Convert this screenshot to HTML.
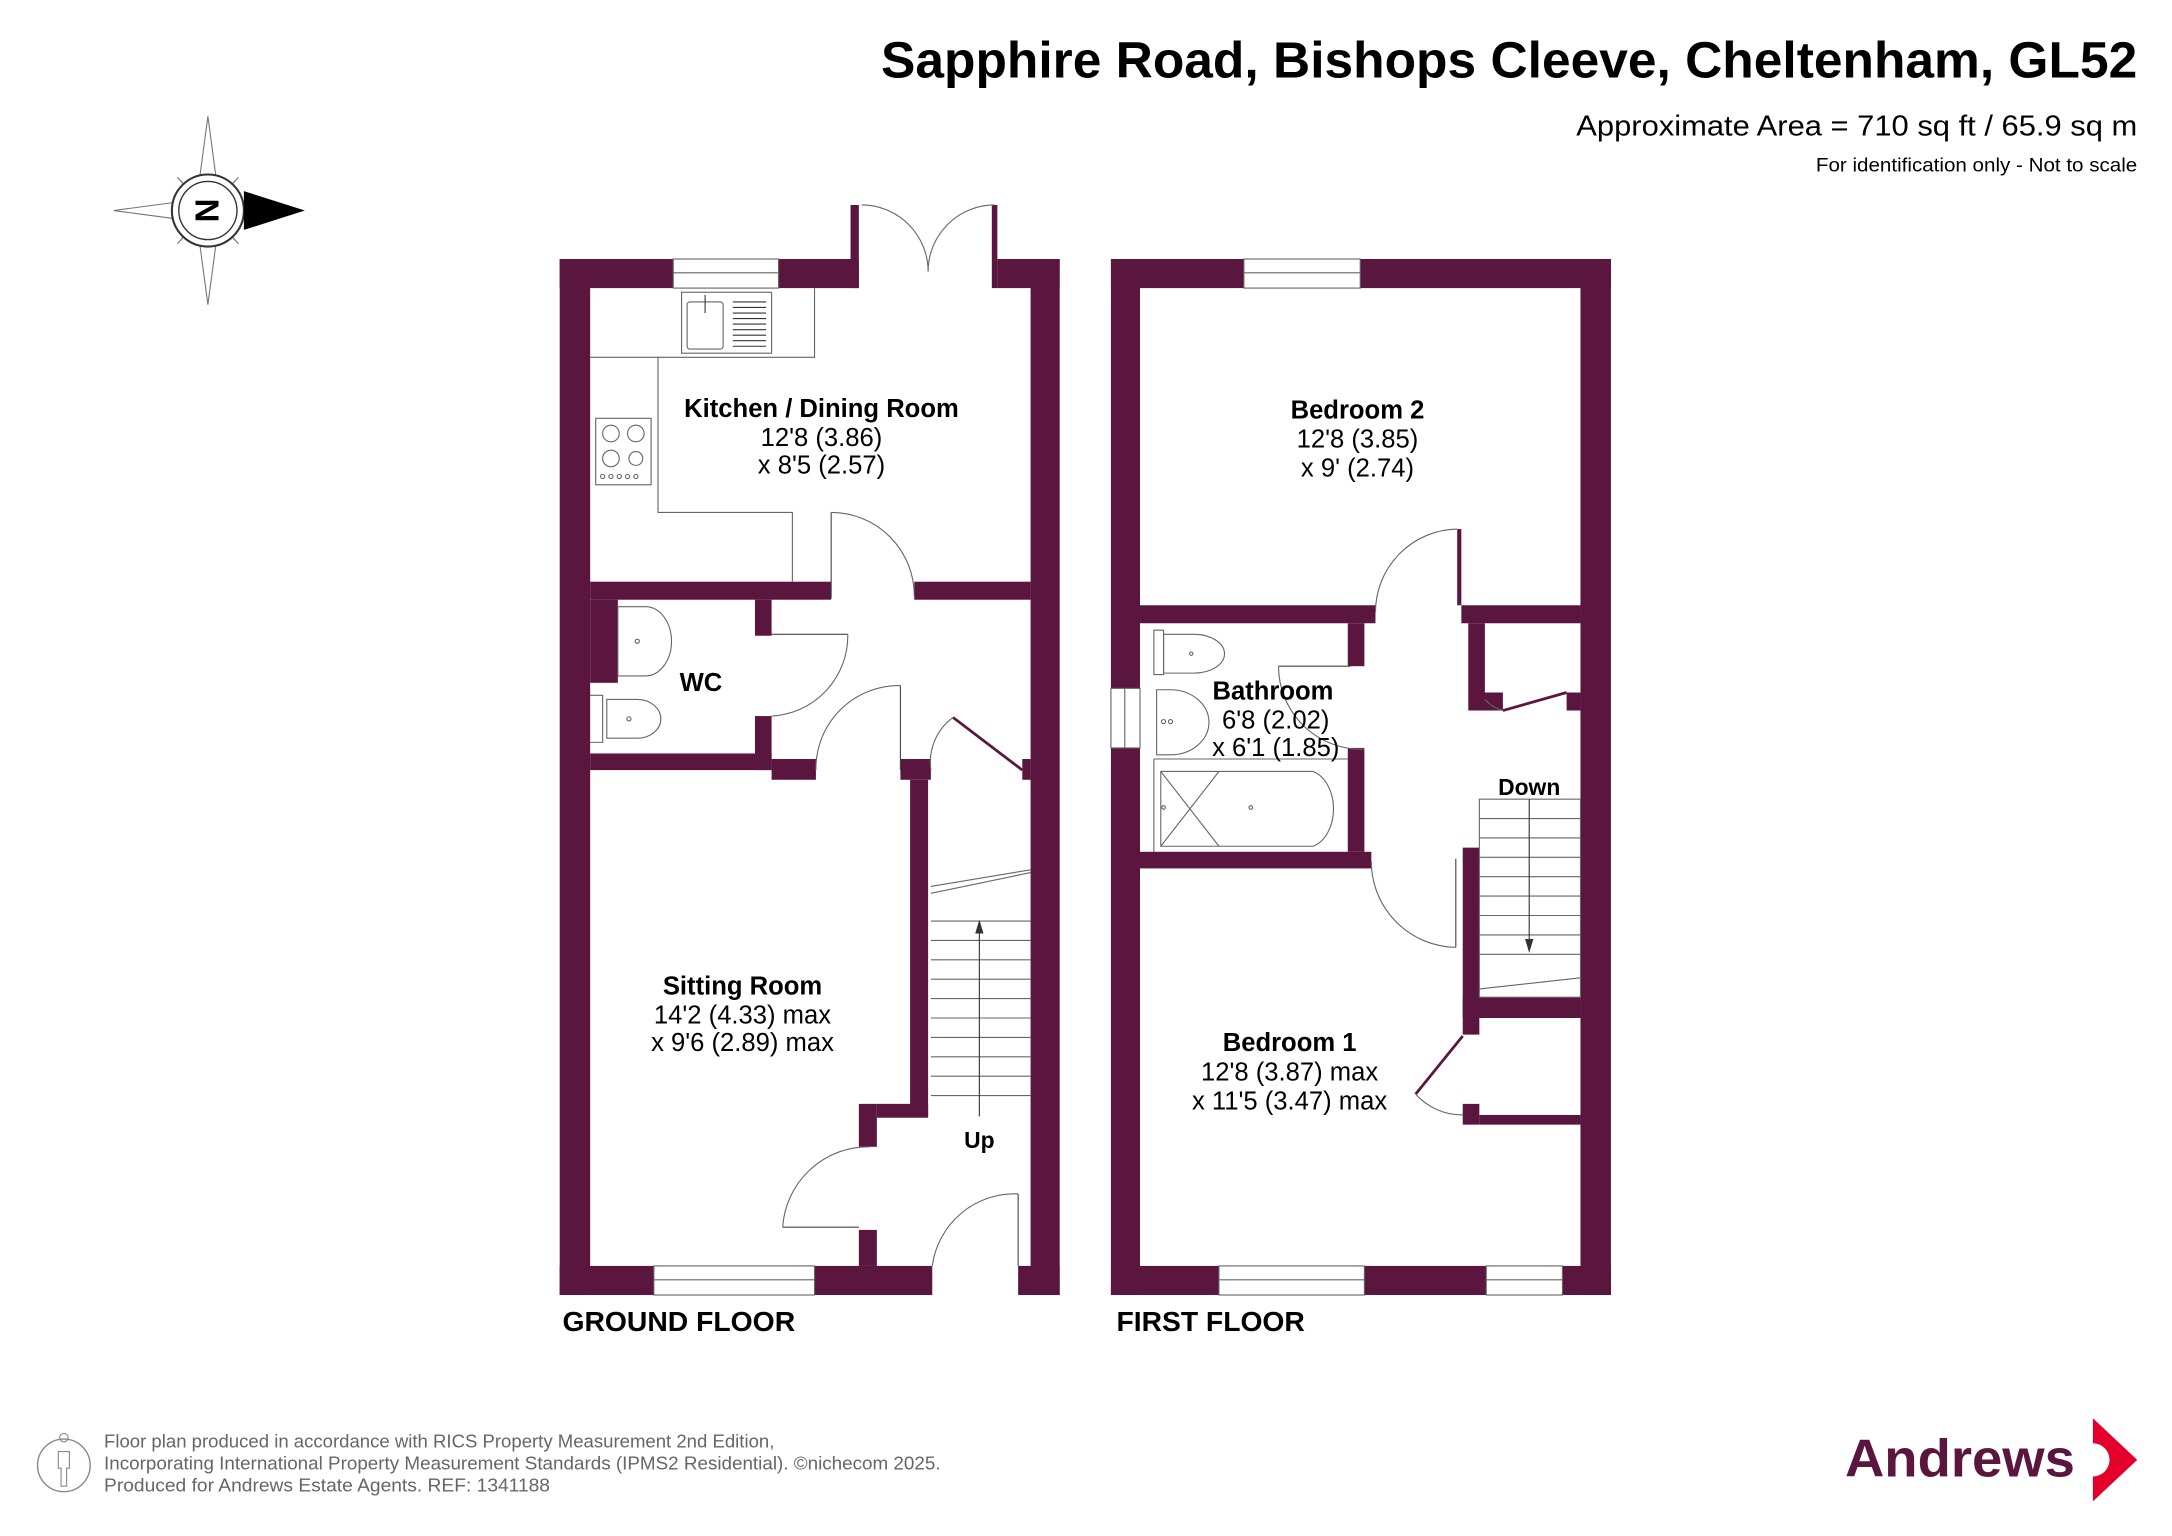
<!DOCTYPE html>
<html><head><meta charset="utf-8"><style>
html,body{margin:0;padding:0;background:#fff;width:2172px;height:1536px;overflow:hidden}
svg{display:block}
text{font-family:"Liberation Sans",Arial,sans-serif}
</style></head><body>
<svg width="2172" height="1536" viewBox="0 0 1568 1109" xmlns="http://www.w3.org/2000/svg">
<rect width="1568" height="1109" fill="#fff"/>
<!-- Title -->
<text x="636" y="56" textLength="907" lengthAdjust="spacingAndGlyphs" font-size="37" font-weight="bold" fill="#000">Sapphire Road, Bishops Cleeve, Cheltenham, GL52</text>
<text x="1138" y="98" textLength="405" lengthAdjust="spacingAndGlyphs" font-size="21" fill="#000">Approximate Area = 710 sq ft / 65.9 sq m</text>
<text x="1311" y="124" textLength="232" lengthAdjust="spacingAndGlyphs" font-size="14" fill="#000">For identification only - Not to scale</text>

<!-- Compass -->
<g stroke="#777" stroke-width="0.8" fill="#fff">
<polygon points="150,84 158,144 150,152 142,144"/>
<polygon points="150,220 158,160 150,152 142,160"/>
<polygon points="82,152 142,144 150,152 142,160"/>
<polygon points="172,128 150,152 158,144" />
<polygon points="128,128 150,152 142,144"/>
<polygon points="128,176 150,152 142,160"/>
<polygon points="172,176 150,152 158,160"/>
<circle cx="150" cy="152" r="26" fill="#fff" stroke="#333" stroke-width="1.5"/>
<circle cx="150" cy="152" r="21" fill="#fff" stroke="#333" stroke-width="1"/>
</g>
<polygon points="176,138 220,152 176,166" fill="#000"/>
<text x="150" y="161" text-anchor="middle" font-size="24" font-weight="bold" transform="rotate(90 150 152)">N</text>

<g fill="#5b1640">
<rect x="404" y="187" width="22" height="748"/>
<rect x="744" y="187" width="21" height="748"/>
<rect x="404" y="187" width="82" height="21"/>
<rect x="562" y="187" width="58" height="21"/>
<rect x="614" y="148" width="6" height="60"/>
<rect x="720" y="187" width="45" height="21"/>
<rect x="716" y="148" width="4" height="60"/>
<rect x="404" y="914" width="68" height="21"/>
<rect x="588" y="914" width="85" height="21"/>
<rect x="735" y="914" width="30" height="21"/>
<rect x="426" y="420" width="174" height="13"/>
<rect x="660" y="420" width="84" height="13"/>
<rect x="426" y="433" width="20" height="60"/>
<rect x="545" y="433" width="12" height="26"/>
<rect x="545" y="517" width="12" height="39"/>
<rect x="426" y="544" width="131" height="12"/>
<rect x="557" y="548" width="32" height="15"/>
<rect x="650" y="548" width="22" height="15"/>
<rect x="657" y="563" width="13" height="243"/>
<rect x="620" y="797" width="13" height="31"/>
<rect x="633" y="797" width="37" height="10"/>
<rect x="620" y="888" width="13" height="26"/>
<rect x="738" y="548" width="6" height="15"/>

<rect x="802" y="187" width="21" height="748"/>
<rect x="1141" y="187" width="22" height="748"/>
<rect x="802" y="187" width="96" height="21"/>
<rect x="982" y="187" width="181" height="21"/>
<rect x="802" y="914" width="78" height="21"/>
<rect x="985" y="914" width="88" height="21"/>
<rect x="1128" y="914" width="35" height="21"/>
<rect x="823" y="437" width="170" height="13"/>
<rect x="1055" y="437" width="86" height="13"/>
<rect x="1052" y="382" width="3" height="55"/>
<rect x="973" y="450" width="12" height="31"/>
<rect x="973" y="540" width="12" height="75"/>
<rect x="823" y="615" width="167" height="12"/>
<rect x="1060" y="450" width="12" height="50"/>
<rect x="1060" y="500" width="25" height="13"/>
<rect x="1131" y="500" width="10" height="13"/>
<rect x="1056" y="612" width="12" height="123"/>
<rect x="1056" y="720" width="85" height="15"/>
<rect x="1056" y="735" width="12" height="12"/>
<rect x="1056" y="797" width="12" height="15"/>
<rect x="1068" y="805" width="73" height="7"/>
</g>

<g fill="none" stroke="#666" stroke-width="0.8">
<rect x="486" y="187" width="76" height="21" fill="#fff"/>
<line x1="486" y1="197" x2="562" y2="197"/>
<rect x="472" y="914" width="116" height="21" fill="#fff"/>
<line x1="472" y1="924" x2="588" y2="924"/>
<path d="M622,148 A48,48 0 0 1 670,196"/>
<path d="M718,148 A48,48 0 0 0 670,196"/>
<path d="M426,258 H475 V370 H572 V420"/>
<path d="M475,258 H588 V208"/>
<rect x="492" y="211" width="65" height="44"/>
<rect x="496" y="218" width="26" height="34" rx="2"/>
<g stroke="#333">
<line x1="529" y1="218" x2="553" y2="218"/><line x1="529" y1="222" x2="553" y2="222"/><line x1="529" y1="226" x2="553" y2="226"/><line x1="529" y1="230" x2="553" y2="230"/><line x1="529" y1="234" x2="553" y2="234"/><line x1="529" y1="238" x2="553" y2="238"/><line x1="529" y1="242" x2="553" y2="242"/><line x1="529" y1="246" x2="553" y2="246"/><line x1="529" y1="250" x2="553" y2="250"/>
<line x1="509" y1="213" x2="509" y2="226"/>
</g>
<rect x="430" y="302" width="40" height="48"/>
<circle cx="441" cy="313" r="6"/><circle cx="459" cy="313" r="6"/><circle cx="441" cy="331" r="6"/><circle cx="459" cy="331" r="5"/>
<circle cx="435" cy="344" r="1.5"/><circle cx="441" cy="344" r="1.5"/><circle cx="447" cy="344" r="1.5"/><circle cx="453" cy="344" r="1.5"/><circle cx="459" cy="344" r="1.5"/>
<line x1="600" y1="370" x2="600" y2="432" stroke="#444"/>
<path d="M600,370 A60,60 0 0 1 660,430"/>
<path d="M446,438 H466 A18,24 0 0 1 466,488 H446 Z"/>
<circle cx="460" cy="463" r="1.5"/>
<path d="M426,502 H435 V536 H426"/>
<path d="M438,505 H460 A17,14 0 0 1 460,533 H438 Z"/>
<circle cx="454" cy="519" r="1.5"/>
<line x1="557" y1="458" x2="612" y2="458" stroke="#444"/>
<path d="M612,458 A58,58 0 0 1 557,517"/>
<line x1="650" y1="495" x2="650" y2="556" stroke="#444"/>
<path d="M650,495 A60,60 0 0 0 589,556"/>
<line x1="688" y1="518" x2="738" y2="556" stroke="#5b1640" stroke-width="2"/>
<path d="M688,518 A40,40 0 0 0 672,556"/>
<path d="M672,645 L744,630"/><path d="M672,640 L744,628"/>
<line x1="672" y1="665" x2="744" y2="665"/><line x1="672" y1="679" x2="744" y2="679"/><line x1="672" y1="693" x2="744" y2="693"/><line x1="672" y1="707" x2="744" y2="707"/><line x1="672" y1="721" x2="744" y2="721"/><line x1="672" y1="735" x2="744" y2="735"/><line x1="672" y1="749" x2="744" y2="749"/><line x1="672" y1="763" x2="744" y2="763"/><line x1="672" y1="777" x2="744" y2="777"/><line x1="672" y1="791" x2="744" y2="791"/>
<line x1="707" y1="806" x2="707" y2="670" stroke="#333"/>
<line x1="565" y1="886" x2="620" y2="886" stroke="#444"/>
<path d="M565,886 A62,62 0 0 1 628,828"/>
<line x1="735" y1="862" x2="735" y2="914" stroke="#444"/>
<path d="M735,862 A60,60 0 0 0 673,914"/>

<rect x="898" y="187" width="84" height="21" fill="#fff"/>
<line x1="898" y1="197" x2="982" y2="197"/>
<rect x="880" y="914" width="105" height="21" fill="#fff"/>
<line x1="880" y1="924" x2="985" y2="924"/>
<rect x="1073" y="914" width="55" height="21" fill="#fff"/>
<line x1="1073" y1="924" x2="1128" y2="924"/>
<rect x="802" y="497" width="21" height="43" fill="#fff"/>
<line x1="812" y1="497" x2="812" y2="540"/>
<path d="M1052,382 A60,60 0 0 0 993,442"/>
<path d="M833,455 V487 H840 V455 Z"/>
<path d="M840,458 H862 A22,14 0 0 1 862,486 H840 Z"/>
<circle cx="860" cy="472" r="1.2"/>
<path d="M835,498 H845 A26,22 0 0 1 845,545 H835 Z"/>
<circle cx="845" cy="521" r="1.5"/><circle cx="840" cy="521" r="1.5"/>
<path d="M833,548 H973 M833,548 V615"/>
<path d="M838,557 H948 A20,28 0 0 1 948,611 H838 Z"/>
<line x1="838" y1="557" x2="880" y2="611"/><line x1="880" y1="557" x2="838" y2="611"/>
<circle cx="903" cy="583" r="1.3"/><circle cx="840" cy="583" r="1.3"/>
<line x1="923" y1="481" x2="975" y2="481" stroke="#444"/>
<path d="M923,481 A60,60 0 0 0 985,541"/>
<line x1="1051" y1="620" x2="1051" y2="684" stroke="#444"/>
<path d="M990,622 A62,62 0 0 0 1051,684"/>
<line x1="1085" y1="513" x2="1131" y2="500" stroke="#5b1640" stroke-width="2"/>
<path d="M1072,505 A28,28 0 0 0 1085,513"/>
<line x1="1022" y1="790" x2="1056" y2="748" stroke="#5b1640" stroke-width="2"/>
<path d="M1022,790 A45,45 0 0 0 1056,805"/>
<rect x="1068" y="577" width="73" height="143" fill="none"/>
<line x1="1068" y1="591" x2="1141" y2="591"/><line x1="1068" y1="605" x2="1141" y2="605"/><line x1="1068" y1="619" x2="1141" y2="619"/><line x1="1068" y1="633" x2="1141" y2="633"/><line x1="1068" y1="647" x2="1141" y2="647"/><line x1="1068" y1="661" x2="1141" y2="661"/><line x1="1068" y1="675" x2="1141" y2="675"/><line x1="1068" y1="689" x2="1141" y2="689"/>
<path d="M1068,714 L1141,706"/>
<line x1="1104" y1="577" x2="1104" y2="684" stroke="#333"/>
</g>
<polygon points="707,664 704,674 710,674" fill="#333"/>
<polygon points="1104,688 1101,678 1107,678" fill="#333"/>

<g font-size="18.5" fill="#000" text-anchor="middle">
<text x="593" y="301" font-weight="bold">Kitchen / Dining Room</text>
<text x="593" y="322">12'8 (3.86)</text>
<text x="593" y="342">x 8'5 (2.57)</text>
<text x="506" y="499" font-weight="bold">WC</text>
<text x="536" y="718" font-weight="bold">Sitting Room</text>
<text x="536" y="739">14'2 (4.33) max</text>
<text x="536" y="759">x 9'6 (2.89) max</text>
<text x="707" y="829" font-size="16.5" font-weight="bold">Up</text>
<text x="980" y="302" font-weight="bold">Bedroom 2</text>
<text x="980" y="323">12'8 (3.85)</text>
<text x="980" y="344">x 9' (2.74)</text>
<text x="919" y="505" font-weight="bold">Bathroom</text>
<text x="921" y="526">6'8 (2.02)</text>
<text x="921" y="546">x 6'1 (1.85)</text>
<text x="1104" y="574" font-size="16.5" font-weight="bold">Down</text>
<text x="931" y="759" font-weight="bold">Bedroom 1</text>
<text x="931" y="780">12'8 (3.87) max</text>
<text x="931" y="801">x 11'5 (3.47) max</text>
</g>
<text x="406" y="961" font-size="20" font-weight="bold" textLength="168" lengthAdjust="spacingAndGlyphs">GROUND FLOOR</text>
<text x="806" y="961" font-size="20" font-weight="bold" textLength="136" lengthAdjust="spacingAndGlyphs">FIRST FLOOR</text>

<circle cx="46" cy="1058" r="19" fill="none" stroke="#888" stroke-width="1"/>
<path d="M46,1041 a3,3 0 1 1 0.1,0 M42,1048 h8 v12 h-2 v13 h-4 v-13 h-2 z" fill="none" stroke="#888" stroke-width="0.8"/>
<g font-size="13" fill="#666">
<text x="75" y="1045" textLength="484" lengthAdjust="spacingAndGlyphs">Floor plan produced in accordance with RICS Property Measurement 2nd Edition,</text>
<text x="75" y="1061" textLength="604" lengthAdjust="spacingAndGlyphs">Incorporating International Property Measurement Standards (IPMS2 Residential).   ©nichecom 2025.</text>
<text x="75" y="1077" textLength="322" lengthAdjust="spacingAndGlyphs">Produced for Andrews Estate Agents.   REF: 1341188</text>
</g>
<text x="1332" y="1066" font-size="38" font-weight="bold" fill="#5b1640" textLength="166" lengthAdjust="spacingAndGlyphs">Andrews</text>
<path d="M1511,1024 L1543,1054 L1511,1084 V1066 A12,12 0 0 0 1511,1042 Z" fill="#e4002b"/>
</svg>
</body></html>
